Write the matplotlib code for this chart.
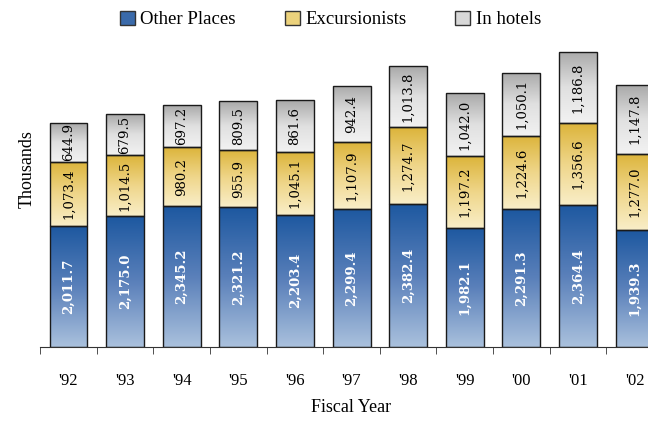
import matplotlib.pyplot as plt
import matplotlib.ticker as ticker
import numpy as np
from matplotlib.colors import LinearSegmentedColormap
from matplotlib.patches import Patch

YEARS = ["'92", "'93", "'94", "'95", "'96", "'97", "'98", "'99", "'00", "'01", "'02"]
OTHER_PLACES = [2011.7, 2175.0, 2345.2, 2321.2, 2203.4, 2299.4, 2382.4, 1982.1, 2291.3, 2364.4, 1939.3]
EXCURSIONISTS = [1073.4, 1014.5, 980.2, 955.9, 1045.1, 1107.9, 1274.7, 1197.2, 1224.6, 1356.6, 1277.0]
IN_HOTELS = [644.9, 679.5, 697.2, 809.5, 861.6, 942.4, 1013.8, 1042.0, 1050.1, 1186.8, 1147.8]

# (name, values, [top, middle, bottom] gradient colours, label colour, label weight)
SERIES = [
    ("Other Places", OTHER_PLACES, ["#1d58a0", "#5a80ba", "#aac1dd"], "white", "bold"),
    ("Excursionists", EXCURSIONISTS, ["#dcb43a", "#efd68a", "#f9eec8"], "black", "normal"),
    ("In hotels", IN_HOTELS, ["#a9a9a9", "#e0e0e0", "#f2f2f2"], "black", "normal"),
]
LEGEND_COLORS = ["#3a6aaa", "#ecd27c", "#d8d8d8"]

plt.rcParams["font.family"] = ["Liberation Serif", "DejaVu Serif"]

fig = plt.figure(figsize=(6.48, 4.21), dpi=100)
ax = fig.add_axes([0.062, 0.176, 0.961, 0.742])

x = np.arange(len(YEARS))
width = 0.67
bottom = np.zeros(len(YEARS))
grad = np.linspace(1, 0, 256).reshape(-1, 1)

for name, vals, cols, tcolor, weight in SERIES:
    vals = np.array(vals)
    cmap = LinearSegmentedColormap.from_list(name, [cols[2], cols[1], cols[0]])
    bars = ax.bar(x, vals, width, bottom=bottom, color="none",
                  edgecolor="#1a1a1a", linewidth=1.0, zorder=3)
    for b, v, b0 in zip(bars, vals, bottom):
        x0 = b.get_x()
        im = ax.imshow(grad, cmap=cmap, vmin=0, vmax=1, aspect="auto",
                       extent=(x0, x0 + width, b0, b0 + v), zorder=2,
                       interpolation="bicubic")
        im.set_clip_path(b)
        ax.text(x0 + width / 2, b0 + v / 2, f"{v:,.1f}", rotation=90,
                ha="center", va="center", color=tcolor, fontsize=9.5,
                fontweight=weight, family=["DejaVu Serif"], zorder=4)
    bottom = bottom + vals

ax.set_xlim(-0.5, len(YEARS) - 0.5)
ax.set_ylim(0, 5200)
ax.set_yticks([])
for side in ["left", "right", "top"]:
    ax.spines[side].set_visible(False)
ax.spines["bottom"].set_color("#333333")

ax.set_xticks(x)
ax.set_xticklabels(YEARS, fontsize=12)
ax.tick_params(axis="x", which="major", length=0, pad=19)
ax.xaxis.set_minor_locator(ticker.FixedLocator(np.arange(-0.5, len(YEARS), 1.0)))
ax.tick_params(axis="x", which="minor", length=5, color="#333333")

ax.set_xlabel("Fiscal Year", fontsize=13, labelpad=7)
ax.set_ylabel("Thousands", fontsize=13)
ax.yaxis.set_label_coords(-0.008, 0.57)

handles = [Patch(facecolor=c, edgecolor="#333333", label=s[0])
           for s, c in zip(SERIES, LEGEND_COLORS)]
fig.legend(handles=handles, loc="upper center", bbox_to_anchor=(0.51, 1.015),
           ncol=3, frameon=False, fontsize=13.5, handlelength=0.8, handleheight=0.8,
           handletextpad=0.3, columnspacing=2.6)

fig.savefig("out.png", dpi=100)
